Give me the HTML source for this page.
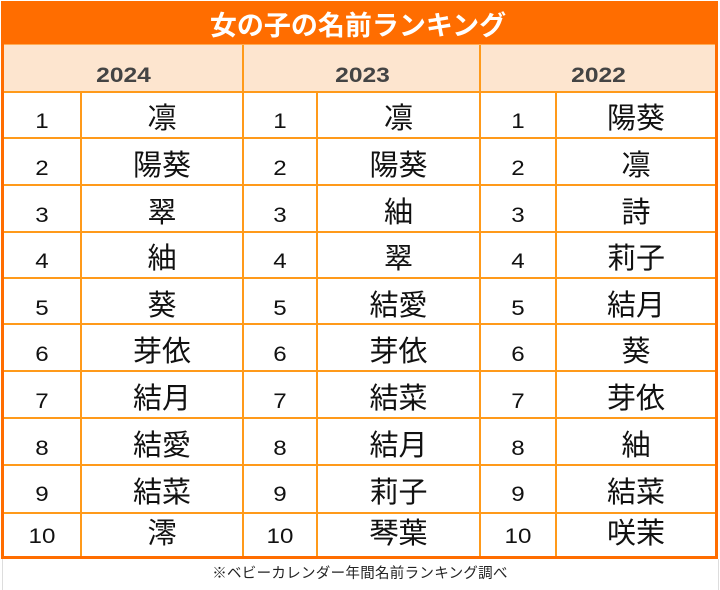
<!DOCTYPE html>
<html><head><meta charset="utf-8"><style>
*{margin:0;padding:0;box-sizing:border-box}
html,body{width:720px;height:590px;background:#fff;overflow:hidden}
body{position:relative;font-family:"Liberation Sans","Noto Sans CJK JP",sans-serif}
.a{position:absolute}
.hl{position:absolute;height:2px;background:#ff9a1a}
.vl{position:absolute;width:2px;background:#ff9a1a}
.n{position:absolute;text-align:center;font-size:21px;line-height:30px;height:30px;color:#111;font-family:"Liberation Sans",sans-serif;transform:scaleX(1.15)}
.m{position:absolute;text-align:center;font-size:29px;line-height:36px;height:36px;color:#111;font-family:"Noto Sans CJK JP",sans-serif}
.y{position:absolute;text-align:center;font-size:21px;font-weight:bold;color:#444;line-height:30px;top:61px;font-family:"Liberation Sans",sans-serif;transform:scaleX(1.17)}
</style></head><body>
<!-- light gray sheet lines -->
<div class="a" style="left:2px;top:559px;width:1px;height:31px;background:#ddd"></div>
<div class="a" style="left:718px;top:559px;width:1px;height:31px;background:#ddd"></div>
<!-- title -->
<div class="a" style="left:1px;top:1px;width:717px;height:43px;background:#ff6d00"></div>
<div class="a" style="left:0;top:8px;width:716px;text-align:center;color:#fff;font-weight:bold;font-size:27px;line-height:32px;font-family:'Noto Sans CJK JP',sans-serif">女の子の名前ランキング</div>
<div class="a" style="left:1px;top:44px;width:717px;height:1px;background:#ffac55"></div>
<!-- header -->
<div class="a" style="left:4px;top:45px;width:711px;height:46px;background:#fde5cf"></div>
<div class="y" style="left:4px;width:239px">2024</div>
<div class="y" style="left:245px;width:235px">2023</div>
<div class="y" style="left:482px;width:233px">2022</div>
<!-- horizontal lines -->
<div class="hl" style="left:4px;width:711px;top:91px"></div>
<div class="hl" style="left:4px;width:711px;top:137px"></div>
<div class="hl" style="left:4px;width:711px;top:184px"></div>
<div class="hl" style="left:4px;width:711px;top:231px"></div>
<div class="hl" style="left:4px;width:711px;top:277px"></div>
<div class="hl" style="left:4px;width:711px;top:323px"></div>
<div class="hl" style="left:4px;width:711px;top:370px"></div>
<div class="hl" style="left:4px;width:711px;top:417px"></div>
<div class="hl" style="left:4px;width:711px;top:464px"></div>
<div class="hl" style="left:4px;width:711px;top:512px"></div>
<!-- vertical lines -->
<div class="vl" style="left:80px;top:92px;height:465px"></div>
<div class="vl" style="left:242px;top:45px;height:512px"></div>
<div class="vl" style="left:316px;top:92px;height:465px"></div>
<div class="vl" style="left:479px;top:45px;height:512px"></div>
<div class="vl" style="left:555px;top:92px;height:465px"></div>
<!-- outer border -->
<div class="a" style="left:1px;top:1px;width:3px;height:558px;background:#ff6d00"></div>
<div class="a" style="left:715px;top:1px;width:3px;height:558px;background:#ff6d00"></div>
<div class="a" style="left:1px;top:556px;width:717px;height:3px;background:#ff6d00"></div>

<!-- row 1 top 91 -->
<div class="n" style="left:4px;width:76px;top:107px">1</div><div class="m" style="left:82px;width:160px;top:98px">凛</div>
<div class="n" style="left:244px;width:72px;top:107px">1</div><div class="m" style="left:318px;width:161px;top:98px">凛</div>
<div class="n" style="left:481px;width:74px;top:107px">1</div><div class="m" style="left:557px;width:158px;top:98px">陽葵</div>
<!-- row 2 top 138 -->
<div class="n" style="left:4px;width:76px;top:154px">2</div><div class="m" style="left:82px;width:160px;top:145px">陽葵</div>
<div class="n" style="left:244px;width:72px;top:154px">2</div><div class="m" style="left:318px;width:161px;top:145px">陽葵</div>
<div class="n" style="left:481px;width:74px;top:154px">2</div><div class="m" style="left:557px;width:158px;top:145px">凛</div>
<!-- row 3 top 185 -->
<div class="n" style="left:4px;width:76px;top:201px">3</div><div class="m" style="left:82px;width:160px;top:192px">翠</div>
<div class="n" style="left:244px;width:72px;top:201px">3</div><div class="m" style="left:318px;width:161px;top:192px">紬</div>
<div class="n" style="left:481px;width:74px;top:201px">3</div><div class="m" style="left:557px;width:158px;top:192px">詩</div>
<!-- row 4 top 232 -->
<div class="n" style="left:4px;width:76px;top:247px">4</div><div class="m" style="left:82px;width:160px;top:238px">紬</div>
<div class="n" style="left:244px;width:72px;top:247px">4</div><div class="m" style="left:318px;width:161px;top:238px">翠</div>
<div class="n" style="left:481px;width:74px;top:247px">4</div><div class="m" style="left:557px;width:158px;top:238px">莉子</div>
<!-- row 5 top 278 -->
<div class="n" style="left:4px;width:76px;top:294px">5</div><div class="m" style="left:82px;width:160px;top:285px">葵</div>
<div class="n" style="left:244px;width:72px;top:294px">5</div><div class="m" style="left:318px;width:161px;top:285px">結愛</div>
<div class="n" style="left:481px;width:74px;top:294px">5</div><div class="m" style="left:557px;width:158px;top:285px">結月</div>
<!-- row 6 top 324 -->
<div class="n" style="left:4px;width:76px;top:340px">6</div><div class="m" style="left:82px;width:160px;top:331px">芽依</div>
<div class="n" style="left:244px;width:72px;top:340px">6</div><div class="m" style="left:318px;width:161px;top:331px">芽依</div>
<div class="n" style="left:481px;width:74px;top:340px">6</div><div class="m" style="left:557px;width:158px;top:331px">葵</div>
<!-- row 7 top 371 -->
<div class="n" style="left:4px;width:76px;top:387px">7</div><div class="m" style="left:82px;width:160px;top:378px">結月</div>
<div class="n" style="left:244px;width:72px;top:387px">7</div><div class="m" style="left:318px;width:161px;top:378px">結菜</div>
<div class="n" style="left:481px;width:74px;top:387px">7</div><div class="m" style="left:557px;width:158px;top:378px">芽依</div>
<!-- row 8 top 418 -->
<div class="n" style="left:4px;width:76px;top:434px">8</div><div class="m" style="left:82px;width:160px;top:425px">結愛</div>
<div class="n" style="left:244px;width:72px;top:434px">8</div><div class="m" style="left:318px;width:161px;top:425px">結月</div>
<div class="n" style="left:481px;width:74px;top:434px">8</div><div class="m" style="left:557px;width:158px;top:425px">紬</div>
<!-- row 9 top 465 -->
<div class="n" style="left:4px;width:76px;top:480px">9</div><div class="m" style="left:82px;width:160px;top:472px">結菜</div>
<div class="n" style="left:244px;width:72px;top:480px">9</div><div class="m" style="left:318px;width:161px;top:472px">莉子</div>
<div class="n" style="left:481px;width:74px;top:480px">9</div><div class="m" style="left:557px;width:158px;top:472px">結菜</div>
<!-- row 10 top 513 -->
<div class="n" style="left:4px;width:76px;top:522px">10</div><div class="m" style="left:82px;width:160px;top:513px">澪</div>
<div class="n" style="left:244px;width:72px;top:522px">10</div><div class="m" style="left:318px;width:161px;top:513px">琴葉</div>
<div class="n" style="left:481px;width:74px;top:522px">10</div><div class="m" style="left:557px;width:158px;top:513px">咲茉</div>

<!-- footer -->
<div class="a" style="left:0;top:563px;width:720px;text-align:center;font-size:14.5px;line-height:20px;letter-spacing:0.3px;color:#222;font-family:'Noto Sans CJK JP',sans-serif">※ベビーカレンダー年間名前ランキング調べ</div>
</body></html>
